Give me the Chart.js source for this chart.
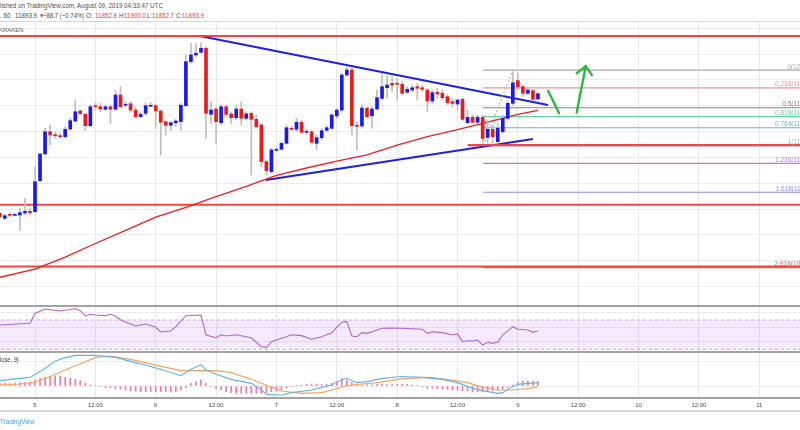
<!DOCTYPE html>
<html><head><meta charset="utf-8">
<script src="https://cdn.jsdelivr.net/npm/chart.js@4.4.1/dist/chart.umd.min.js"></script>
<style>
html,body{margin:0;padding:0;}
body{width:800px;height:430px;overflow:hidden;background:#fff;position:relative;font-family:"Liberation Sans",Arial,sans-serif;}
canvas{position:absolute;left:0;}
.t{position:absolute;white-space:nowrap;color:#4a4a4a;line-height:1;transform-origin:0 0;transform:scaleX(0.83);}
.r{color:#e53b3b;}
.sep{position:absolute;left:0;width:800px;}
</style></head><body>
<canvas id="main" width="800" height="284" style="top:22px"></canvas>
<canvas id="rsi" width="800" height="46" style="top:306px"></canvas>
<canvas id="macd" width="800" height="60" style="top:352px"></canvas>

<div class="sep" style="top:21px;height:1px;background:#d8d8d8"></div>
<div class="sep" style="top:305px;height:2px;background:#a3a3a3"></div>
<div class="sep" style="top:351px;height:2px;background:#a3a3a3"></div>
<div class="sep" style="top:397px;height:2px;background:#a3a3a3"></div>
<div class="sep" style="top:410px;height:2px;background:#d6d6d6"></div>

<div class="t" style="left:0;top:2px;font-size:7.5px;color:#505050">lished on TradingView.com, August 09, 2019 04:33:47 UTC</div>
<div class="t" style="left:0;top:12px;font-size:7.5px">, 60</div>
<div class="t" style="left:15px;top:12px;font-size:7.5px">11893.9</div>
<div class="t r" style="left:38.5px;top:12.5px;font-size:6.5px">▼</div>
<div class="t" style="left:43px;top:12px;font-size:7.5px;transform:scaleX(0.8)">−88.7 (−0.74%)</div>
<div class="t" style="left:86px;top:12px;font-size:7.5px">O:</div>
<div class="t r" style="left:95px;top:12px;font-size:7.5px">11852.8</div>
<div class="t" style="left:119px;top:12px;font-size:7.5px">H:</div>
<div class="t r" style="left:124px;top:12px;font-size:7.5px">11900.0</div>
<div class="t" style="left:147px;top:12px;font-size:7.5px">L:</div>
<div class="t r" style="left:152px;top:12px;font-size:7.5px">11852.7</div>
<div class="t" style="left:176px;top:12px;font-size:7.5px">C:</div>
<div class="t r" style="left:182px;top:12px;font-size:7.5px">11893.9</div>
<div class="t" style="left:-1px;top:26.5px;font-size:6px;color:#555;transform:none">KRAKEN</div>
<div class="t" style="left:0;top:357px;font-size:6.5px;color:#444;transform:scaleX(0.88)">lose, 9)</div>
<div class="t" style="left:0;top:418px;font-size:7px;color:#45a6e6;transform:scaleX(0.9)">TradingView</div>

<script>
// ---------- DATA ----------
const hours = [-7,-6,-5,-4,-3,-2,-1,0,1,2,3,4,5,6,7,8,9,10,11,12,13,14,15,16,17,18,19,20,21,22,23,24,25,26,27,28,29,30,31,32,33,34,35,36,37,38,39,40,41,42,43,44,45,46,47,48,49,50,51,52,53,54,55,56,57,58,59,60,61,62,63,64,65,66,67,68,69,70,71,72,73,74,75,76,77,78,79,80,81,82,83,84,85,86,87,88,89,90,91,92,93,94,95,96,97,98,99,100];
const opens = [10967,10928,10954,10951,10954,10969,10982,10979,11220,11427,11599,11574,11568,11561,11620,11682,11760,11734,11646,11798,11793,11773,11793,11773,11884,11804,11816,11767,11716,11742,11796,11801,11760,11677,11649,11669,11677,11801,12142,12194,12215,12246,11734,11775,11669,11793,11737,11708,11775,11703,11742,11695,11651,11367,11289,11455,11463,11509,11626,11618,11672,11595,11599,11509,11553,11610,11626,11721,11767,12039,12078,11649,11644,11781,11723,11775,11858,11940,11974,11974,11967,11905,11922,11948,11940,11922,11837,11905,11897,11871,11832,11814,11850,11669,11711,11672,11711,11556,11618,11522,11599,11703,11819,11995,11948,11897,11917,11852.8];
const highs = [10972,10959,10972,10967,11006,11083,11006,11328,11432,11626,11651,11599,11587,11638,11703,11845,11767,11742,11806,11819,11819,11806,11806,11922,11948,11832,11832,11793,11754,11819,11827,11814,11767,11682,11677,11695,11819,12194,12284,12284,12292,12258,11832,11793,11806,11806,11754,11806,11832,11754,11754,11729,11664,11380,11471,11483,11522,11651,11638,11703,11690,11620,11612,11574,11626,11646,11742,11781,12052,12103,12091,11677,11806,11793,11793,11922,12052,12039,12026,12013,11987,11948,11961,11974,11961,11936,11922,11936,11922,11884,11858,11850,11858,11767,11729,11729,11729,11690,11651,11664,11729,11832,12064,12052,11961,11936,11928,11900];
const lows = [10933,10915,10941,10946,10832,10954,10954,10975,11212,11419,11496,11548,11548,11548,11612,11677,11729,11612,11638,11767,11754,11767,11664,11767,11781,11793,11754,11703,11711,11729,11793,11626,11419,11574,11612,11638,11612,11793,12129,12181,12207,11548,11664,11509,11651,11716,11664,11690,11651,11690,11264,11626,11328,11264,11277,11444,11458,11502,11612,11599,11587,11574,11502,11458,11535,11599,11620,11703,11754,12026,11574,11458,11626,11703,11626,11767,11845,11858,11909,11845,11884,11897,11909,11845,11909,11754,11819,11858,11845,11812,11793,11767,11690,11664,11664,11664,11509,11509,11509,11509,11587,11690,11806,11922,11871,11884,11845,11852.7];
const closes = [10941,10948,10951,10954,10972,10982,10972,11212,11427,11599,11574,11568,11561,11618,11685,11754,11739,11646,11793,11793,11775,11793,11773,11884,11793,11812,11767,11716,11734,11801,11801,11760,11672,11649,11669,11682,11804,12142,12194,12207,12246,11742,11767,11677,11793,11734,11708,11775,11703,11737,11695,11638,11367,11297,11458,11463,11509,11630,11618,11672,11595,11602,11517,11553,11607,11630,11729,11767,12039,12078,11646,11641,11783,11716,11775,11863,11948,11961,11961,11967,11897,11928,11940,11936,11928,11837,11902,11892,11863,11824,11819,11845,11695,11711,11672,11711,11548,11618,11561,11626,11703,11819,11979,11948,11897,11922,11850,11893.9];

// 100-period moving average
const maHours  = [-7,0,6,12,18,24,30,36,42,48,54,60,66,72,78,84,90,96,100];
const maValues = [10471,10535,10628,10733,10834,10938,11012,11096,11175,11260,11318,11372,11419,11496,11562,11616,11673,11733,11764];

// drawings
const upperTrendHours = [32.8,102],  upperTrendPrices = [12341,11806];
const lowerTrendHours = [45.9,99],   lowerTrendPrices = [11225,11543];
const levelTop = 12341, level2 = 11034, level3 = 10555;
const supportHours = [86,160], supportPrice = 11495;
const fibLevels = ['0','0.236','0.5','0.618','0.764','1','1.236','1.618','2.618'];
const fibPrices = [12077,11939,11785,11716,11630,11492,11354,11130,10546];
const fibColors = ['#a9a9a9','#ee9696','#8f7f7f','#62cf9f','#6aaee2','#7fc0ec','#b57ee2','#8f8fee','#ee6060'];
const fibStartHour = 89.1, fibEndHour = 160, fibLabelHour = 155.8;
const fibLinkHours = [89.1,95], fibLinkPrices = [11492,12077];
const arrowDownHours = [102,104.2], arrowDownPrices = [11917,11742];
const arrowUpHours = [107.7,109.5], arrowUpPrices = [11747,12108];
const arrowHeadHours = [107.7,109.5,110.7], arrowHeadPrices = [12052,12108,12039];

// RSI
const rsiHours  = [-7,-1,0,2,5,8,9,10,11,12,14,15,16,17,20,22,24,25,27,28,30,33,34,36,37,38,40,42,43,45,46,47,48,50,51,53,55,57,59,60,61,62,63,64,65,66,67,69,71,73,77,78,79,81,83,84,85,86,87,88,89,90,91,92,93,95,96,98,99,100];
const rsiValues = [63.2,65.5,79,85,82.3,85.4,82.7,75.5,77.8,76.8,75.9,77.8,75.5,70,61.8,64.5,60,53.6,55,60.9,75.9,76.8,49.5,45.8,49.9,48.2,49.9,47.2,45.8,33.5,32.7,40.4,42.7,47.2,49.9,48.6,43.7,47.2,52.7,60,66.9,67.7,48.2,47.2,52.7,51.8,54,58.7,59.1,58.7,57.3,51.8,54,52.7,49.5,50.9,40.4,41.7,41.3,42.7,35.8,39.5,38.1,39.5,49.5,60.9,57.3,56.3,53.2,55];
const rsiUpper = 70, rsiLower = 30;

// MACD
const macdHours  = [-7,-5,-1,2,4,6,8,12,16,20,22,25,29,31,33,34,36,39,43,45,46,49,51,55,57,59,60,62,64,66,69,73,77,81,84,87,90,92,93,95,96,98,100];
const macdValues = [10.7,13.3,17.3,35,50,56.7,61.3,61.3,57.3,46.7,42,33.3,20.7,33.3,42.7,32,23.3,13.3,5.3,-8,-16.7,-18,-13.3,-8,-2.7,2,8.7,15.3,6.7,8.7,15.3,19,17.3,13.3,6.7,-4.7,-11.3,-14.7,-13.3,-1.3,3.3,5.3,6.7];
const signalHours  = [-7,-3,0,3,6,10,12,15,18,22,26,29,33,36,39,43,46,49,53,57,59,62,65,68,73,78,82,86,89,92,95,98,100];
const signalValues = [2,4,8,18.7,32,48.7,56.7,60,55.3,46.7,37.3,30.7,30.7,30.7,26.7,13.3,1.3,-10,-14.7,-13.3,-8,0.7,4,6.7,14.3,17.3,13.3,6.7,-2.7,-8,-8,-5.3,-1.3];
const histValues = [6,6,5,6,7,7,8,12,15.3,17.3,20,20,20,17.3,15.3,13.3,10.7,5.3,2,0.7,-1.3,-2.7,-3.3,-4.7,-6,-8,-9.3,-10,-11.3,-11.3,-11.3,-11.3,-11.3,-11.3,-12,-11.3,-8,-3.3,5.3,8.7,12,5.3,-1.3,-4.7,-8,-11.3,-13.3,-14.7,-14.7,-14.7,-14.7,-14.7,-14.7,-13.3,-11.3,-10,-8,-3.3,-1.3,0.5,2,3,4,4,3.3,4,5.3,8.7,15.3,12,6.7,4,2,2.7,2.7,3.3,3.3,2.7,2.7,3.3,3.3,3.3,2,0.7,-2,-4.7,-4.7,-6,-6,-6.7,-8,-8,-9.3,-10,-11.3,-11.3,-11.3,-11.3,-10,-8,-6,-2.7,2,6.7,10,10,10,8.7];

// axes
const tickHours  = [0,12,24,36,48,60,72,84,96,108,120,132,144];
const tickLabels = ['5','12:00','6','12:00','7','12:00','8','12:00','9','12:00','10','12:00','11'];
const priceGrid = [10400,10600,10800,11000,11200,11400,11600,11800,12000,12200,12400];
const rsiGrid = [40,60,80];
const macdGrid = [0,50];

// ---------- CHART ----------
const BLUE = '#1a1af0', RED = '#ee1a1a', WICK = '#bfbfbf';
const X_MIN = -6.96, X_MAX = 152.1;
const pts = (xs, ys) => xs.map((x, i) => ({x: x, y: ys[i]}));

function xAxis(show) {
  return {
    type: 'linear', min: X_MIN, max: X_MAX, offset: false,
    afterBuildTicks: s => { s.ticks = tickHours.map(v => ({value: v})); },
    grid: {color: '#e8e8e8', lineWidth: 1, drawTicks: false, offset: false},
    border: {display: false},
    ticks: {display: show, padding: 4, color: '#4a4a4a', autoSkip: false, maxRotation: 0,
      font: {family: 'Liberation Sans', size: 6},
      callback: (v, i) => tickLabels[i]},
    afterFit: s => { s.height = show ? 14 : 0; }
  };
}
function yAxis(min, max, grid) {
  return {
    type: 'linear', position: 'right', min: min, max: max,
    afterBuildTicks: s => { s.ticks = grid.map(v => ({value: v})); },
    grid: {color: '#ececec', drawTicks: false},
    border: {display: false},
    ticks: {display: false},
    afterFit: s => { s.width = 0; }
  };
}
function line(data, color, width, extra) {
  return Object.assign({type: 'line', data: data, borderColor: color, borderWidth: width,
    pointRadius: 0, fill: false, tension: 0, order: 3}, extra || {});
}
const baseOpts = (scales) => ({
  responsive: false, animation: false, devicePixelRatio: 1,
  layout: {padding: 0},
  plugins: {legend: {display: false}, tooltip: {enabled: false}},
  events: [],
  scales: scales
});

const fibLabelPlugin = {
  id: 'fibLabels',
  afterDatasetsDraw(chart) {
    const ctx = chart.ctx, xs = chart.scales.x, ys = chart.scales.y;
    ctx.save();
    ctx.font = '6.5px "Liberation Sans"';
    ctx.textAlign = 'right';
    ctx.textBaseline = 'alphabetic';
    fibLevels.forEach((lv, i) => {
      ctx.fillStyle = fibColors[i];
      ctx.fillText(lv + '(' + fibPrices[i].toFixed(1) + ')', xs.getPixelForValue(fibLabelHour), ys.getPixelForValue(fibPrices[i]) - 1.5);
    });
    ctx.restore();
  }
};

const isUp = i => closes[i] >= opens[i];
const mainDatasets = [
  {type: 'bar', data: hours.map((h, i) => ({x: h, y: [opens[i], closes[i]]})),
   backgroundColor: c => isUp(c.dataIndex) ? BLUE : RED, barThickness: 3, minBarLength: 1, grouped: false, order: 0},
  {type: 'bar', data: hours.map((h, i) => ({x: h, y: [lows[i], highs[i]]})),
   backgroundColor: WICK, barThickness: 1, grouped: false, order: 1},
  line(pts(maHours, maValues), '#f01e1e', 1.3, {order: 2}),
  line(pts([X_MIN - 1, X_MAX + 1], [levelTop, levelTop]), '#f24646', 2),
  line(pts([X_MIN - 1, X_MAX + 1], [level2, level2]), '#f24646', 2),
  line(pts([X_MIN - 1, X_MAX + 1], [level3, level3]), '#f24646', 2),
];
fibLevels.forEach((lv, i) => {
  mainDatasets.push(line(pts([fibStartHour, fibEndHour], [fibPrices[i], fibPrices[i]]), fibColors[i], 1.2, {order: 4}));
});
mainDatasets.push(
  line(pts(supportHours, [supportPrice, supportPrice]), '#f24646', 2.2),
  line(pts(fibLinkHours, fibLinkPrices), '#a8a8a8', 1, {borderDash: [2, 2]}),
  line(pts(upperTrendHours, upperTrendPrices), '#1f1fe6', 2),
  line(pts(lowerTrendHours, lowerTrendPrices), '#1f1fe6', 2),
  line(pts(arrowDownHours, arrowDownPrices), '#2cb844', 2.4, {borderCapStyle: 'round'}),
  line(pts(arrowUpHours, arrowUpPrices), '#2cb844', 2.4, {borderCapStyle: 'round'}),
  line(pts(arrowHeadHours, arrowHeadPrices), '#2cb844', 2.4, {borderCapStyle: 'round', borderJoinStyle: 'round'})
);

new Chart(document.getElementById('main'), {
  type: 'bar',
  data: {datasets: mainDatasets},
  options: baseOpts({x: xAxis(false), y: yAxis(10248.5, 12449.5, priceGrid)}),
  plugins: [fibLabelPlugin]
});

new Chart(document.getElementById('rsi'), {
  type: 'line',
  data: {datasets: [
    line(pts([X_MIN - 1, X_MAX + 1], [rsiUpper, rsiUpper]), '#cfa6e6', 1,
      {borderDash: [3, 3], fill: {target: 1}, backgroundColor: 'rgba(176,106,230,0.14)', order: 3}),
    line(pts([X_MIN - 1, X_MAX + 1], [rsiLower, rsiLower]), '#cfa6e6', 1, {borderDash: [3, 3], order: 3}),
    line(pts(rsiHours, rsiValues), '#b263d8', 1.1, {order: 1})
  ]},
  options: baseOpts({x: xAxis(false), y: yAxis(26.3, 89.1, rsiGrid)})
});

new Chart(document.getElementById('macd'), {
  type: 'bar',
  data: {datasets: [
    {type: 'bar', data: hours.map((h, i) => ({x: h, y: histValues[i]})),
     backgroundColor: '#f27aa8', barThickness: 1, grouped: false, order: 3},
    line(pts(signalHours, signalValues), '#f5a25e', 1.1, {order: 2}),
    line(pts(macdHours, macdValues), '#5db4f2', 1.1, {order: 1})
  ]},
  options: baseOpts({x: xAxis(true), y: yAxis(-24, 68, macdGrid)})
});
</script>
</body></html>
